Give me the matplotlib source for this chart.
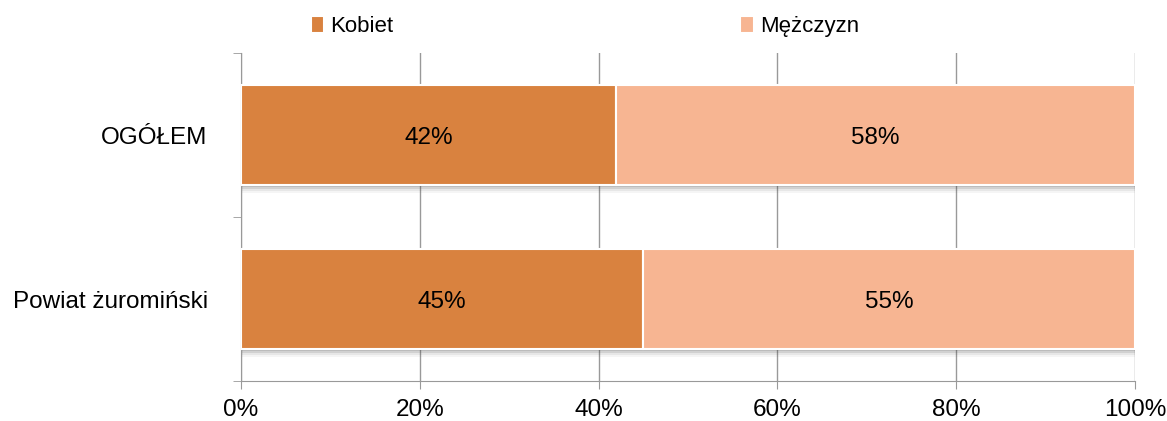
import matplotlib.pyplot as plt
import numpy as np

kategorie = ['OGÓŁEM', 'Powiat żuromiński']
kobiety = [42, 45]
mezczyzni = [58, 55]
serie = ['Kobiet', 'Mężczyzn']
kolory = ['#D9823F', '#F7B592']

plt.rcParams['font.family'] = ['Liberation Sans', 'DejaVu Sans']

fig = plt.figure(figsize=(11.67, 4.21), dpi=100)
ax = fig.add_axes([0.2065, 0.095, 0.766, 0.779])

y = np.arange(len(kategorie))
h = 0.61

# cien pod slupkami
for i, a in enumerate([0.16, 0.12, 0.08, 0.05]):
    ax.barh(y + 0.012 * (i + 1), 100, height=h, color='#404040', alpha=a,
            zorder=1, linewidth=0)

b1 = ax.barh(y, kobiety, height=h, color=kolory[0], edgecolor='white',
             linewidth=1.5, zorder=3, label=serie[0])
b2 = ax.barh(y, mezczyzni, left=kobiety, height=h, color=kolory[1],
             edgecolor='white', linewidth=1.5, zorder=3, label=serie[1])

for i in range(len(kategorie)):
    ax.text(kobiety[i] / 2, y[i], f'{kobiety[i]}%', ha='center',
            va='center_baseline', fontsize=17.5, zorder=4)
    ax.text(kobiety[i] + mezczyzni[i] / 2, y[i], f'{mezczyzni[i]}%',
            ha='center', va='center_baseline', fontsize=17.5, zorder=4)

ax.set_xlim(0, 100)
ax.set_ylim(1.5, -0.5)
ax.set_xticks(np.arange(0, 101, 20))
ax.set_xticklabels([f'{v}%' for v in range(0, 101, 20)], fontsize=17.5)
ax.set_yticks(y)
ax.set_yticklabels(kategorie, fontsize=17.5)
ax.set_yticks([-0.5, 0.5, 1.5], minor=True)
ax.tick_params(axis='y', which='major', length=0, pad=24)
ax.tick_params(axis='y', which='minor', length=6, color='#999999')
ax.tick_params(axis='x', length=6, color='#999999', pad=7)
ax.grid(axis='x', color='#999999', linewidth=1, zorder=0)
ax.set_axisbelow(True)
for s in ['top', 'right']:
    ax.spines[s].set_visible(False)
for s in ['left', 'bottom']:
    ax.spines[s].set_color('#999999')

fig.legend(handles=[b1, b2], loc='upper left', bbox_to_anchor=(0.249, 1.01),
           ncol=2, frameon=False, fontsize=16, handlelength=0.6,
           handleheight=0.8, handletextpad=0.3, columnspacing=15.6)

fig.savefig('out.png', dpi=100)
